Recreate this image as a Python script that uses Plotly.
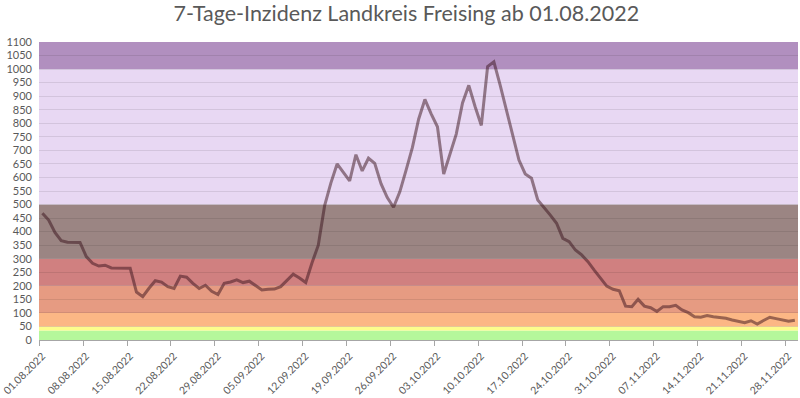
import plotly.graph_objects as go
import pandas as pd

start_date = "2022-08-01"
incidence = [
    468, 443, 397, 367, 361, 360, 360, 308, 283, 273,
    276, 266, 265, 265, 265, 177, 160, 191, 219, 214,
    197, 190, 236, 232, 209, 190, 202, 180, 168, 209,
    214, 222, 212, 217, 202, 185, 187, 188, 197, 222,
    243, 229, 212, 285, 350, 495, 579, 650, 620, 587,
    684, 624, 671, 652, 577, 526, 490, 547, 627, 710,
    815, 888, 835, 787, 613, 686, 760, 875, 940, 862,
    792, 1009, 1027, 941, 849, 763, 664, 613, 597, 517,
    490, 461, 431, 375, 363, 332, 314, 289, 258, 228,
    199, 187, 182, 125, 123, 150, 125, 119, 105, 123,
    123, 128, 111, 101, 86, 84, 90, 86, 84, 80,
    74, 69, 64, 71, 59, 72, 84, 79, 74, 69,
    73,
]
dates = pd.date_range(start_date, periods=len(incidence), freq="D") + pd.Timedelta(hours=12)

band_limits = [0, 35, 50, 100, 200, 300, 500, 1000, 1100]
band_colors = ["#b5f79b", "#fdfd8c", "#fcb785", "#e69b82", "#d08080",
               "#9b8583", "#e8d8f3", "#b18fbf"]

tick_dates = pd.date_range("2022-08-01", "2022-11-28", freq="7D")
tick_text = [d.strftime("%d.%m.%Y") for d in tick_dates]

fig = go.Figure()
fig.add_trace(go.Scatter(
    x=dates, y=incidence, mode="lines",
    line=dict(color="rgba(55,15,25,0.5)", width=3),
    hoverinfo="x+y", showlegend=False,
))

for i, c in enumerate(band_colors):
    fig.add_shape(type="rect", xref="paper", yref="y",
                  x0=0, x1=1, y0=band_limits[i], y1=band_limits[i + 1],
                  fillcolor=c, line_width=0, layer="below")

fig.update_layout(
    width=800, height=398,
    margin=dict(l=39, r=2, t=42, b=58, autoexpand=False),
    paper_bgcolor="white", plot_bgcolor="white",
    title=dict(text="7-Tage-Inzidenz Landkreis Freising ab 01.08.2022",
               x=0.508, xanchor="center", y=0.965, yanchor="middle",
               font=dict(family="Lato, Open Sans, sans-serif", size=21.5, color="#595959")),
    font=dict(family="Lato, Open Sans, sans-serif", size=11, color="#595959"),
)
fig.update_xaxes(
    type="date", range=["2022-07-31 23:00", "2022-11-30"],
    tickvals=tick_dates, ticktext=tick_text, tickangle=-45,
    ticks="outside", ticklen=5, tickcolor="#a6a6a6",
    showline=True, linecolor="#a6a6a6", linewidth=1,
    showgrid=False, zeroline=False, automargin=False,
    ticklabeloverflow="allow", ticklabelshift=3,
    tickfont=dict(size=10.5, color="#595959"),
)
fig.update_yaxes(
    range=[0, 1100], dtick=50, tick0=0,
    showgrid=True, gridcolor="rgba(0,0,0,0.09)", gridwidth=1,
    zeroline=False, showline=False, ticks="", automargin=False,
    ticklabelstandoff=6,
    tickfont=dict(size=11, color="#595959"),
)

fig.write_html(
    "out.html",
    config={"displayModeBar": False},
    post_script="document.body.style.margin='0';document.body.style.padding='0';",
)
